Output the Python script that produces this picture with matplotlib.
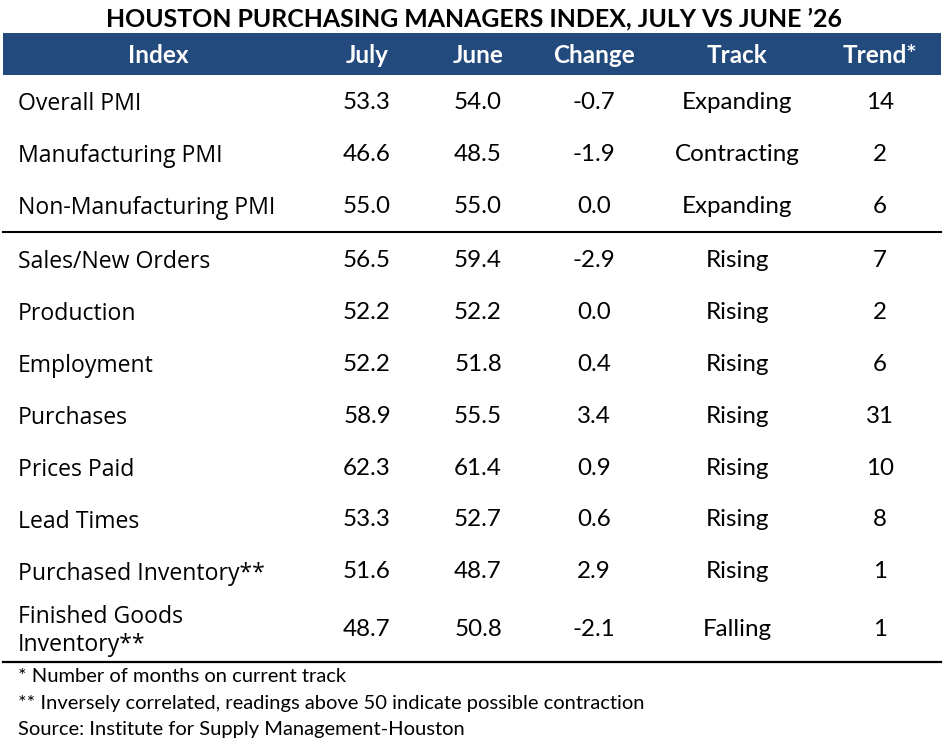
import matplotlib
matplotlib.use('Agg')
import matplotlib.pyplot as plt

# table content
title = "HOUSTON PURCHASING MANAGERS INDEX, JULY VS JUNE \u201926"
headers = ["Index", "July", "June", "Change", "Track", "Trend*"]
index_names = ["Overall PMI", "Manufacturing PMI", "Non-Manufacturing PMI",
               "Sales/New Orders", "Production", "Employment", "Purchases",
               "Prices Paid", "Lead Times", "Purchased Inventory**",
               "Finished Goods\nInventory**"]
july = [53.3, 46.6, 55.0, 56.5, 52.2, 52.2, 58.9, 62.3, 53.3, 51.6, 48.7]
june = [54.0, 48.5, 55.0, 59.4, 52.2, 51.8, 55.5, 61.4, 52.7, 48.7, 50.8]
change = [-0.7, -1.9, 0.0, -2.9, 0.0, 0.4, 3.4, 0.9, 0.6, 2.9, -2.1]
track = ["Expanding", "Contracting", "Expanding", "Rising", "Rising", "Rising",
         "Rising", "Rising", "Rising", "Rising", "Falling"]
trend = [14, 2, 6, 7, 2, 6, 31, 10, 8, 1, 1]
notes = ["* Number of months on current track",
         "** Inversely correlated, readings above 50 indicate possible contraction",
         "Source: Institute for Supply Management-Houston"]

W, H = 947, 753
fig = plt.figure(figsize=(W / 100, H / 100), dpi=100)
ax = fig.add_axes([0, 0, 1, 1])
ax.set_xlim(0, W)
ax.set_ylim(H, 0)
ax.axis('off')

navy = '#234a7d'
lab_font = 'Open Sans'
num_font = 'Lato'

ax.text(W / 2, 19, title, ha='center', va='center', fontsize=17.9,
        fontweight='bold', family=num_font, color='black')

ax.add_patch(plt.Rectangle((3, 33), 938, 42, color=navy, lw=0))
col_x = [158, 367, 478, 594, 737, 880]
for x, h in zip(col_x, headers):
    ax.text(x, 55, h, ha='center', va='center', fontsize=17.5,
            fontweight='bold', family=num_font, color='white')

row_y = [102, 154, 206, 260, 312, 364, 416, 468, 520, 572, 629]
for i, y in enumerate(row_y):
    ax.text(18, y + 2, index_names[i], ha='left', va='center', fontsize=16.6,
            family=lab_font, color='black', linespacing=1.2)
    vals = [f"{july[i]:.1f}", f"{june[i]:.1f}", f"{change[i]:.1f}",
            track[i], str(trend[i])]
    for x, v in zip(col_x[1:], vals):
        ax.text(x, y, v, ha='center', va='center', fontsize=17.4,
                family=num_font, color='black')

ax.plot([3, 941], [232, 232], color='black', lw=1.5)
ax.plot([3, 941], [662, 662], color='black', lw=1.6)

for y, n in zip([677, 703, 730], notes):
    ax.text(18, y, n, ha='left', va='center', fontsize=14.5,
            family=num_font, color='black')

fig.savefig('out.png', dpi=100)
